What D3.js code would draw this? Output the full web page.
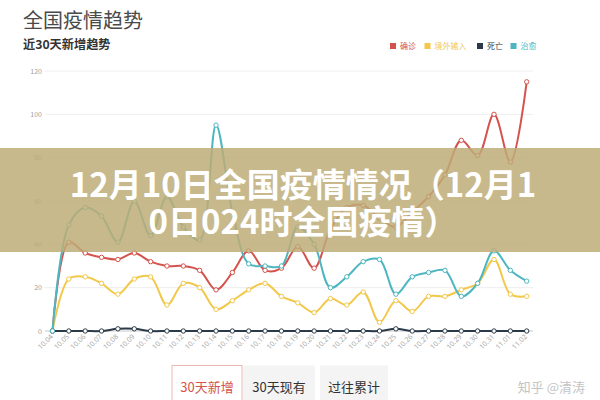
<!DOCTYPE html>
<html><head><meta charset="utf-8">
<script src="https://cdn.jsdelivr.net/npm/d3@7"></script>
<style>
html,body{margin:0;padding:0;background:#fff;}
svg{display:block;font-family:"Noto Sans CJK SC","Noto Sans",sans-serif;}
</style></head>
<body>
<svg id="chart" width="600" height="400"></svg>
<script>
const dates = ["10.04","10.05","10.06","10.07","10.08","10.09","10.10","10.11","10.12","10.13","10.14","10.15","10.16","10.17","10.18","10.19","10.20","10.21","10.22","10.23","10.24","10.25","10.26","10.27","10.28","10.29","10.30","10.31","11.01","11.02"];
const confirmed = [0,41,36,34,33,36,32,30,30,28,19,27,37,28,29,39,29,47,57,58,52,48,55,62,72,88,81,100,78,115];
const imported  = [0,24,25,22,17,24,25,12,22,20,10,14,19,22,16,13,8.5,15,12,18,4,14,9,16,16,19,22,33,17,16];
const deaths    = [0,0,0,0,1,1,0,0,0,0,0,0,0,0,0,0,0,0,0,0,0,1,0,0,0,0,0,0,0,0];
const cured     = [0,49,57,53,41,60,44,62,48,42,95,55,31,30,30,48,40,20,25,32,33,17,25,27,28,16,22,37,28,23];
const yTicks = [0,20,40,60,80,100,120];
const seriesNames = ["确诊","境外输入","死亡","治愈"];
const seriesColors = ["#d4534c","#f2c84b","#2b3a48","#4db6c0"];
const buttons = ["30天新增","30天现有","过往累计"];
const headline = ["12月10日全国疫情情况（12月1","0日024时全国疫情）"];

const svg = d3.select("#chart");
const x = d3.scalePoint().domain(dates).range([52.5, 526.7]);
const y = d3.scaleLinear().domain([0,120]).range([331, 71]);

// titles
svg.append("text").attr("x",23).attr("y",28).attr("font-size",20).attr("fill","#4a4a4a").text("全国疫情趋势");
svg.append("text").attr("x",23).attr("y",49).attr("font-size",12.2).attr("font-weight","bold").attr("fill","#333").text("近30天新增趋势");

// legend
const legendX = [390, 424.5, 477, 510.5];
seriesNames.forEach((n,i)=>{
  const g = svg.append("g").attr("transform",`translate(${legendX[i]},46)`);
  g.append("rect").attr("x",0).attr("y",-3).attr("width",6).attr("height",6).attr("fill",seriesColors[i]);
  g.append("text").attr("x",10).attr("y",3).attr("font-size",8).attr("fill",seriesColors[i]).text(n);
});

// grid
const gridG = svg.append("g");
yTicks.forEach(t=>{
  gridG.append("line").attr("x1",45).attr("x2",533).attr("y1",y(t)).attr("y2",y(t))
    .attr("stroke", t===0 ? "#c8c8c8" : "#eeeeee").attr("stroke-width",1);
  gridG.append("text").attr("x",42).attr("y",y(t)+2.5).attr("text-anchor","end")
    .attr("font-size",7).attr("fill","#a0a0a0").text(t);
});

// x axis labels
const xAxis = d3.axisBottom(x).tickSize(0).tickPadding(0);
const xg = svg.append("g").attr("transform","translate(0,334)").call(xAxis);
xg.select(".domain").remove();
xg.selectAll("text").attr("font-size",7).attr("fill","#a8a8a8")
  .attr("text-anchor","end").attr("dy","0.35em").attr("dx","0")
  .attr("transform","rotate(-45) translate(-2,0)")
  .attr("font-family","'Noto Sans',sans-serif");

// series
const allSeries = [confirmed, imported, deaths, cured];
const line = d3.line().x((d,i)=>x(dates[i])).y(d=>y(d)).curve(d3.curveCatmullRom.alpha(0.5));
allSeries.forEach((s,k)=>{
  svg.append("path").datum(s).attr("d",line).attr("fill","none")
    .attr("stroke",seriesColors[k]).attr("stroke-width",2);
});
allSeries.forEach((s,k)=>{
  svg.append("g").selectAll("circle").data(s).join("circle")
    .attr("cx",(d,i)=>x(dates[i])).attr("cy",d=>y(d)).attr("r",2.2)
    .attr("fill","#fff").attr("stroke",seriesColors[k]).attr("stroke-width",1);
});

// overlay band
svg.append("rect").attr("x",0).attr("y",148).attr("width",600).attr("height",104)
  .attr("fill","rgb(190,172,118)").attr("opacity",0.84);
const head = svg.append("text").attr("text-anchor","middle")
  .attr("font-size",33).attr("font-weight","bold").attr("fill","#fff");
head.append("tspan").attr("x",303).attr("y",197).text(headline[0]);
head.append("tspan").attr("x",303).attr("y",234).text(headline[1]);

// buttons
const btnX = [172, 243, 320], btnW = [70, 72, 68];
buttons.forEach((b,i)=>{
  svg.append("rect").attr("x",btnX[i]).attr("y",365.5).attr("width",btnW[i]).attr("height",36)
    .attr("fill", i===0 ? "#fff" : "#f4f4f4")
    .attr("stroke", i===0 ? "#ebb8b6" : "none");
  svg.append("text").attr("x",btnX[i]+btnW[i]/2).attr("y",391.5).attr("text-anchor","middle")
    .attr("font-size",13).attr("fill", i===0 ? "#d4534c" : "#333").text(b);
});

// watermark
svg.append("text").attr("x",585).attr("y",392).attr("text-anchor","end")
  .attr("font-size",13).attr("fill","#c4c4c4").text("知乎 @清涛");
</script>
</body></html>
